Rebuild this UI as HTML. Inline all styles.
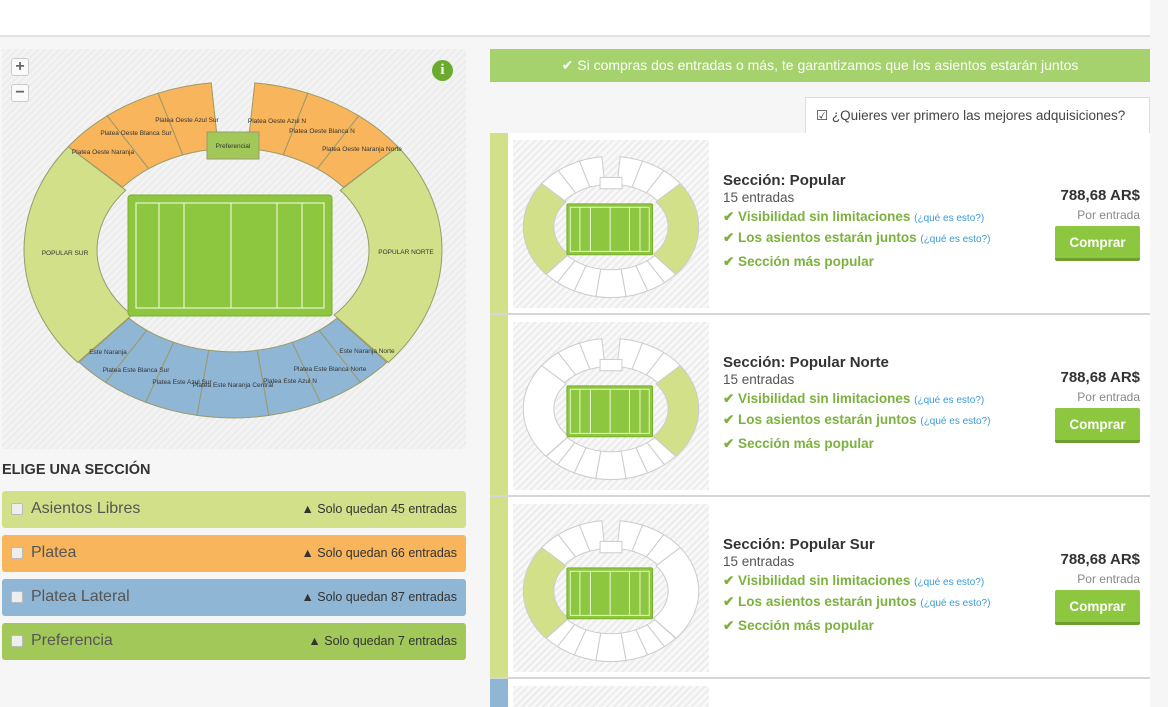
<!DOCTYPE html>
<html style="width:1168px;height:707px;overflow:hidden"><head><meta charset="utf-8">
<style>
*{box-sizing:border-box;margin:0;padding:0}
body{width:1168px;height:707px;overflow:hidden;background:#f6f6f6;font-family:"Liberation Sans",sans-serif;position:relative;color:#333}
.abs{position:absolute}
.top{left:0;top:0;width:1150px;height:37px;background:#fff;border-bottom:2px solid #e2e2e2}
.map{left:2px;top:49px;width:464px;height:400px;background:repeating-linear-gradient(135deg,#ececec 0 2px,#f3f3f3 2px 5px)}
.zb{width:18px;height:18px;background:#fafafa;border:1px solid #ccc;border-radius:3px;font:bold 16px/15px "Liberation Sans";text-align:center;color:#666}
.bar{left:2px;width:464px;height:37px;border-radius:3px;font-size:16px;color:#555}
.bar .cb{position:absolute;left:9px;top:12px;width:12px;height:12px;background:#eee;border:1px solid #bbb;border-radius:2px}
.bar .l{position:absolute;left:29px;top:9px}
.bar .r{position:absolute;right:9px;top:11px;font-size:12.5px;color:#333}
.banner{left:490px;top:49px;width:660px;height:33px;background:#a5d26c;color:#fff;font-size:14px;text-align:center;line-height:33px}
.chk{left:805px;top:97px;width:345px;height:36px;background:#fff;border:1px solid #ddd;border-bottom:none;font-size:13.5px;color:#444;line-height:36px;padding-left:10px}
.card{left:490px;width:660px;height:182px;background:#fff;border-bottom:2px solid #d6d6d6}
.card .stripe{position:absolute;left:0;top:0;width:18px;height:100%}
.card .thumb{position:absolute;left:23px;top:7px;width:196px;height:168px;background:repeating-linear-gradient(135deg,#ececec 0 2px,#f8f8f8 2px 5px)}
.t1{position:absolute;left:233px;top:39px;font-size:15px;font-weight:bold;color:#333}
.t2{position:absolute;left:233px;top:57px;font-size:13.5px;color:#555}
.f{position:absolute;left:233px;font-size:13.5px;font-weight:bold;color:#7bb23e}
.f small{font-size:10px;color:#3a9ad9;font-weight:normal}
.price{position:absolute;right:10px;top:54px;font-size:15px;font-weight:bold;color:#333}
.por{position:absolute;right:10px;top:75px;font-size:12px;color:#888}
.btn{position:absolute;right:10px;top:93px;width:85px;height:35px;background:#8dc63f;border-bottom:3px solid #6e9e2e;border-radius:2px;color:#fff;font-weight:bold;font-size:13.5px;text-align:center;line-height:33px}
</style></head><body>
<div class="abs top"></div>
<div class="abs map"><svg id="big" width="464" height="400" viewBox="2 49 464 400" style="position:absolute;left:0;top:0"></svg></div>
<div class="abs zb" style="left:11px;top:58px">+</div>
<div class="abs zb" style="left:11px;top:84px">−</div>
<div class="abs" style="left:432px;top:60px;width:21px;height:21px;border-radius:50%;background:#6aab2e;color:#fff;font:bold 15px/21px 'Liberation Serif';text-align:center">i</div>
<div class="abs" style="left:2px;top:462px;font-size:14.5px;font-weight:bold;color:#333">ELIGE UNA SECCIÓN</div>
<div class="abs bar" style="top:491px;background:#d3e08a"><span class="cb"></span><span class="l">Asientos Libres</span><span class="r">▲ Solo quedan 45 entradas</span></div>
<div class="abs bar" style="top:535px;background:#f8b55b"><span class="cb"></span><span class="l">Platea</span><span class="r">▲ Solo quedan 66 entradas</span></div>
<div class="abs bar" style="top:579px;background:#8fb6d4"><span class="cb"></span><span class="l">Platea Lateral</span><span class="r">▲ Solo quedan 87 entradas</span></div>
<div class="abs bar" style="top:623px;background:#a3c85a"><span class="cb"></span><span class="l">Preferencia</span><span class="r">▲ Solo quedan 7 entradas</span></div>

<div class="abs banner">✔ Si compras dos entradas o más, te garantizamos que los asientos estarán juntos</div>
<div class="abs chk">☑ ¿Quieres ver primero las mejores adquisiciones? <span style="display:inline-block;width:15px;height:15px;border-radius:50%;background:#3a9ad9;color:#fff;font:bold 11px/15px 'Liberation Serif';text-align:center;margin-left:6px">i</span></div>

<div class="abs card" style="top:133px"><div class="stripe" style="background:#d3e08a"></div><div class="thumb"><svg class="mini" data-h="both" width="196" height="168"></svg></div>
<div class="t1">Sección: Popular</div><div class="t2">15 entradas</div>
<div class="f" style="top:76px">✔ Visibilidad sin limitaciones <small>(¿qué es esto?)</small></div>
<div class="f" style="top:97px">✔ Los asientos estarán juntos <small>(¿qué es esto?)</small></div>
<div class="f" style="top:121px">✔ Sección más popular</div>
<div class="price">788,68 AR$</div><div class="por">Por entrada</div><div class="btn">Comprar</div></div>

<div class="abs card" style="top:315px"><div class="stripe" style="background:#d3e08a"></div><div class="thumb"><svg class="mini" data-h="right" width="196" height="168"></svg></div>
<div class="t1">Sección: Popular Norte</div><div class="t2">15 entradas</div>
<div class="f" style="top:76px">✔ Visibilidad sin limitaciones <small>(¿qué es esto?)</small></div>
<div class="f" style="top:97px">✔ Los asientos estarán juntos <small>(¿qué es esto?)</small></div>
<div class="f" style="top:121px">✔ Sección más popular</div>
<div class="price">788,68 AR$</div><div class="por">Por entrada</div><div class="btn">Comprar</div></div>

<div class="abs card" style="top:497px"><div class="stripe" style="background:#d3e08a"></div><div class="thumb"><svg class="mini" data-h="left" width="196" height="168"></svg></div>
<div class="t1">Sección: Popular Sur</div><div class="t2">15 entradas</div>
<div class="f" style="top:76px">✔ Visibilidad sin limitaciones <small>(¿qué es esto?)</small></div>
<div class="f" style="top:97px">✔ Los asientos estarán juntos <small>(¿qué es esto?)</small></div>
<div class="f" style="top:121px">✔ Sección más popular</div>
<div class="price">788,68 AR$</div><div class="por">Por entrada</div><div class="btn">Comprar</div></div>

<div class="abs card" style="top:679px;height:28px;border:none;overflow:hidden"><div class="stripe" style="background:#8fb6d4"></div><div class="thumb" style="height:21px"></div></div>

<script>
function sec(cx,cy,ro,ryo,ri,ryi,a1,a2,fill,stroke){
 var r=Math.PI/180,p=function(rx,ry,a){return (cx+rx*Math.cos(a*r)).toFixed(1)+","+(cy+ry*Math.sin(a*r)).toFixed(1)};
 var lg=Math.abs(a2-a1)>180?1:0;
 return '<path d="M'+p(ro,ryo,a1)+' A'+ro+','+ryo+' 0 '+lg+' 1 '+p(ro,ryo,a2)+' L'+p(ri,ryi,a2)+' A'+ri+','+ryi+' 0 '+lg+' 0 '+p(ri,ryi,a1)+'Z" fill="'+fill+'" stroke="'+stroke+'" stroke-width="1"/>';
}
function stadium(cx,cy,s,cols){
 var o='',ro=209*s,ryo=168*s,ri=136*s,ryi=97*s;
 o+=sec(cx,cy,ro,ryo,ri,ryi,138,218,cols.L,cols.st);
 o+=sec(cx,cy,ro,ryo,ri,ryi,-38,42,cols.R,cols.st);
 var t=[-142,-127,-111,-96],t2=[-84,-69,-53,-38];
 for(var i=0;i<3;i++){o+=sec(cx,cy,ro,ryo,ri*1.03,ryi*1.05,t[i],t[i+1],cols.T,cols.st);o+=sec(cx,cy,ro,ryo,ri*1.03,ryi*1.05,t2[i],t2[i+1],cols.T,cols.st);}
 var b=[138,128,115,100,80,65,52,42];
 for(var i=0;i<7;i++)o+=sec(cx,cy,ro*0.99,ryo,ri*1.03,ryi*1.05,b[i+1],b[i],cols.B,cols.st);
 o+='<rect x="'+(cx-26*s)+'" y="'+(cy-118*s)+'" width="'+(52*s)+'" height="'+(27*s)+'" fill="'+cols.P+'" stroke="'+cols.st+'"/>';
 var px=cx-105*s,py=cy-55*s,pw=204*s,ph=121*s;
 o+='<rect x="'+px+'" y="'+py+'" width="'+pw+'" height="'+ph+'" rx="'+3*s+'" fill="#8dc63f" stroke="#7ab02e"/>';
 o+='<rect x="'+(px+8*s)+'" y="'+(py+8*s)+'" width="'+(pw-16*s)+'" height="'+(ph-16*s)+'" fill="none" stroke="#e8f5d0" stroke-width="'+Math.max(1,1.2*s)+'"/>';
 [23,48,95,141,166].forEach(function(x){o+='<line x1="'+(px+8*s+x*s)+'" y1="'+(py+8*s)+'" x2="'+(px+8*s+x*s)+'" y2="'+(py+ph-8*s)+'" stroke="#e8f5d0" stroke-width="'+Math.max(1,1.2*s)+'"/>';});
 return o;
}
var big=stadium(233,250,1,{L:'#d3e08a',R:'#d3e08a',T:'#f8b55b',B:'#8fb6d4',P:'#a3c85a',st:'#9a9a6a'});
var lab=[["Platea Oeste Azul Sur",187,122],["Platea Oeste Blanca Sur",136,135],["Platea Oeste Naranja",103,154],["Preferencial",233,148],["Platea Oeste Azul N",277,123],["Platea Oeste Blanca N",322,133],["Platea Oeste Naranja Norte",362,151],["POPULAR SUR",65,255],["POPULAR NORTE",406,254],["Este Naranja",108,354],["Platea Este Blanca Sur",136,372],["Platea Este Azul Sur",182,384],["Platea Este Naranja Central",233,387],["Platea Este Azul N",290,383],["Platea Este Blanca Norte",330,371],["Este Naranja Norte",367,353]];
lab.forEach(function(l){big+='<text x="'+l[1]+'" y="'+l[2]+'" font-size="6.5" text-anchor="middle" fill="#333" font-family="Liberation Sans">'+l[0]+'</text>';});
document.getElementById('big').innerHTML=big;
document.querySelectorAll('.mini').forEach(function(m){
 var h=m.getAttribute('data-h'),g='#d3e08a',w='#fff';
 m.innerHTML=stadium(98,87,0.42,{L:(h=='both'||h=='left')?g:w,R:(h=='both'||h=='right')?g:w,T:w,B:w,P:w,st:'#ccc'});
});
</script>
</body></html>
